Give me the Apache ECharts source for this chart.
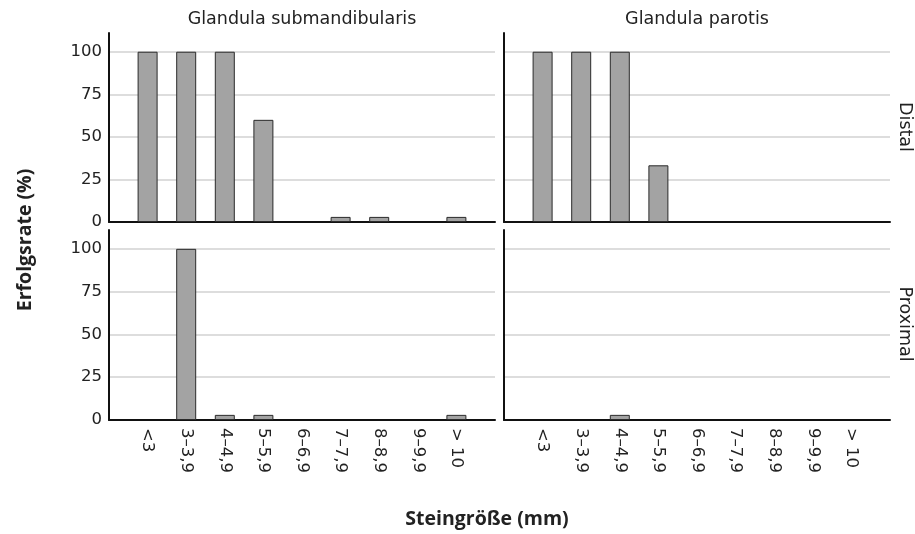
<!DOCTYPE html>
<html>
<head>
<meta charset="utf-8">
<script src="https://cdn.jsdelivr.net/npm/echarts@6/dist/echarts.min.js"></script>
<style>
  html, body { margin: 0; padding: 0; background: #fff; }
  #chart { width: 915px; height: 534px; }
</style>
</head>
<body>
<div id="chart"></div>
<script>
// Größenklassen (x-Achse)
const sizeClasses = ['<3', '3–3,9', '4–4,9', '5–5,9', '6–6,9', '7–7,9', '8–8,9', '9–9,9', '> 10'];
const yTicks = [0, 25, 50, 75, 100];

// Erfolgsrate in %
const distalSubmandibularis = [100, 100, 100, 60, 0, 3, 3, 0, 3];
const distalParotis = [100, 100, 100, 33.3, 0, 0, 0, 0, 0];
const proximalSubmandibularis = [0, 100, 3, 3, 0, 0, 0, 0, 3];
const proximalParotis = [0, 0, 3, 0, 0, 0, 0, 0, 0];

const colTitles = ['Glandula submandibularis', 'Glandula parotis'];
const rowTitles = ['Distal', 'Proximal'];

const textColor = '#222';
const tickFont = 'DejaVu Sans';

// panel-positionen
const grids = [
  { left: 109, top: 33, width: 386, height: 189 },
  { left: 504, top: 33, width: 386, height: 189 },
  { left: 109, top: 230, width: 386, height: 190 },
  { left: 504, top: 230, width: 386, height: 190 },
];
const panelData = [distalSubmandibularis, distalParotis, proximalSubmandibularis, proximalParotis];

function toPoints(vals) {
  const out = [];
  for (let i = 0; i < vals.length; i++) {
    if (vals[i] > 0) out.push([i, vals[i]]);
  }
  return out;
}

const xAxes = grids.map((g, i) => ({
  type: 'value',
  gridIndex: i,
  min: -1,
  max: sizeClasses.length,
  interval: 1,
  axisLine: { show: true, lineStyle: { color: '#111', width: 2 } },
  axisTick: { show: false },
  splitLine: { show: false },
  axisLabel: {
    show: i >= 2,
    rotate: -90,
    margin: 8,
    fontFamily: tickFont,
    fontSize: 16.5,
    color: textColor,
    formatter: v => sizeClasses[v] || ''
  }
}));

const yAxes = grids.map((g, i) => ({
  type: 'value',
  gridIndex: i,
  min: 0,
  max: 111,
  interval: 25,
  axisLine: { show: true, onZero: false, lineStyle: { color: '#111', width: 2 } },
  axisTick: { show: false },
  splitLine: { show: true, showMaxLine: false, lineStyle: { color: '#d2d2d2', width: 1.5 } },
  axisLabel: {
    show: i % 2 === 0,
    showMaxLabel: false,
    margin: 7,
    fontFamily: tickFont,
    fontSize: 16.5,
    color: textColor,
    formatter: v => yTicks.indexOf(v) >= 0 ? String(v) : ''
  }
}));

const series = panelData.map((vals, i) => ({
  type: 'bar',
  xAxisIndex: i,
  yAxisIndex: i,
  barWidth: 20,
  itemStyle: { color: '#a3a3a3', borderColor: '#2a2a2a', borderWidth: 1 },
  silent: true,
  data: toPoints(vals)
}));

const chart = echarts.init(document.getElementById('chart'));
chart.setOption({
  animation: false,
  backgroundColor: '#fff',
  grid: grids.map(g => Object.assign({ containLabel: false }, g)),
  xAxis: xAxes,
  yAxis: yAxes,
  series: series,
  graphic: [
    { type: 'text', x: 302, y: 19, style: { text: colTitles[0], fontFamily: tickFont, fontSize: 17.5, fill: textColor, align: 'center', verticalAlign: 'middle' } },
    { type: 'text', x: 697, y: 19, style: { text: colTitles[1], fontFamily: tickFont, fontSize: 17.5, fill: textColor, align: 'center', verticalAlign: 'middle' } },
    { type: 'text', x: 905, y: 127, rotation: -Math.PI / 2, style: { text: rowTitles[0], fontFamily: tickFont, fontSize: 17.5, fill: textColor, align: 'center', verticalAlign: 'middle' } },
    { type: 'text', x: 905, y: 324, rotation: -Math.PI / 2, style: { text: rowTitles[1], fontFamily: tickFont, fontSize: 17.5, fill: textColor, align: 'center', verticalAlign: 'middle' } },
    { type: 'text', x: 25, y: 240, rotation: Math.PI / 2, style: { text: 'Erfolgsrate (%)', fontFamily: 'Open Sans', fontWeight: 'bold', fontSize: 19.5, fill: textColor, align: 'center', verticalAlign: 'middle' } },
    { type: 'text', x: 487, y: 519, style: { text: 'Steingröße (mm)', fontFamily: 'Open Sans', fontWeight: 'bold', fontSize: 19.5, fill: textColor, align: 'center', verticalAlign: 'middle' } }
  ]
});
</script>
</body>
</html>
